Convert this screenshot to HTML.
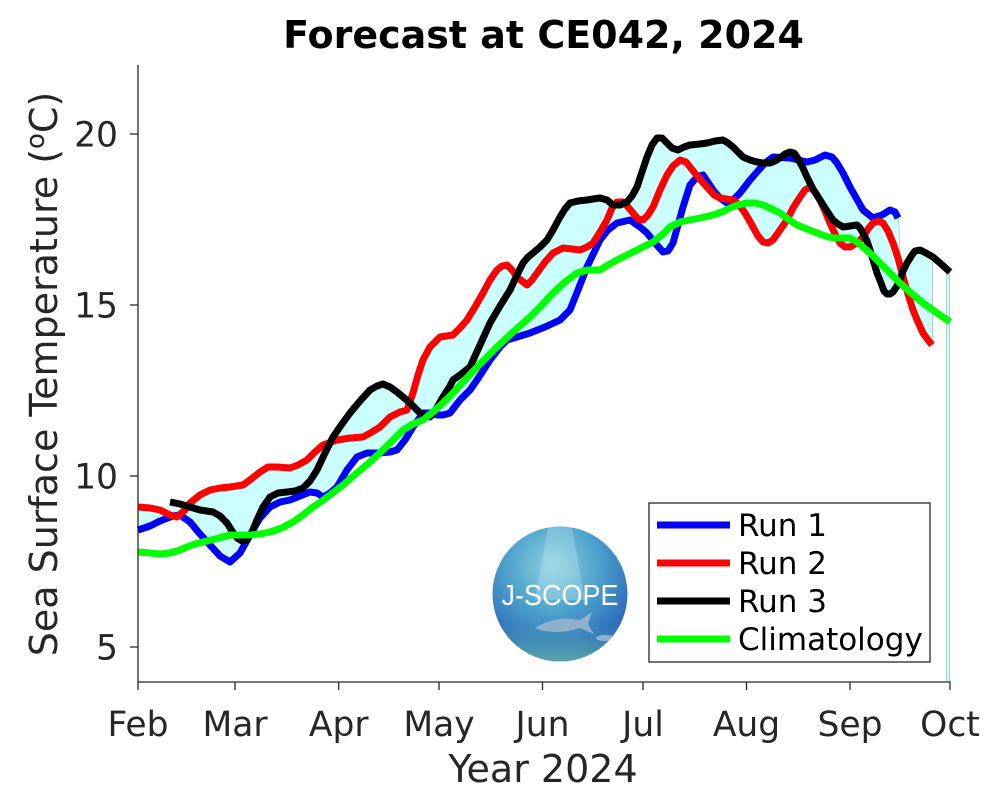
<!DOCTYPE html>
<html><head><meta charset="utf-8"><style>
html,body{margin:0;padding:0;background:#fff;}
svg{display:block;}
</style></head><body>
<svg width="1000" height="804" viewBox="0 0 1000 804" xmlns="http://www.w3.org/2000/svg" font-family="'DejaVu Sans','Liberation Sans',sans-serif">
<defs>
<clipPath id="c1"><rect x="138" y="60" width="760" height="630"/></clipPath>
<clipPath id="c2"><rect x="170" y="60" width="728" height="630"/></clipPath>
<clipPath id="c3"><rect x="170" y="60" width="762" height="630"/></clipPath>
<radialGradient id="lg" cx="0.45" cy="0.3" r="0.8">
<stop offset="0" stop-color="#8fd0df"/>
<stop offset="0.4" stop-color="#4fa3cc"/>
<stop offset="0.75" stop-color="#2f6fbd"/>
<stop offset="1" stop-color="#2a55a8"/>
</radialGradient>
<linearGradient id="lg2" x1="0" y1="0" x2="0" y2="1">
<stop offset="0.7" stop-color="#4aa6a8" stop-opacity="0"/>
<stop offset="1" stop-color="#6ab8a8" stop-opacity="0.85"/>
</linearGradient>
<clipPath id="circ"><circle cx="560" cy="594" r="67.5"/></clipPath>
</defs>

<!-- title -->
<text x="543.5" y="48" font-size="38" font-weight="bold" text-anchor="middle" fill="#000">Forecast at CE042, 2024</text>

<!-- envelope fill (pairwise XOR regions) -->
<g fill="#ccffff" fill-rule="evenodd" stroke="none">
<path clip-path="url(#c1)" d="M138,800 L138,530 150,526 160,521 173,516 180,515 190,522 200,534 210,545 220,556 230,562 240,553 250,535 260,518 270,507 280,502 290,500 300,496 310,492 317,493 323,497 330,493 337,487 347,470 357,457 367,453 380,453 390,452 397,450 405,440 413,427 423,413 430,413 437,415 443,415 450,413 460,400 470,390 477,380 490,360 500,347 507,340 517,337 530,333 545,327 560,320 570,310 580,285 587,267 600,240 608,230 617,223 630,220 640,227 647,233 655,243 663,252 668,251 673,243 683,207 690,185 697,177 703,175 713,190 720,198 727,203 733,200 740,193 750,180 757,172 765,163 773,157 790,158 807,162 815,160 825,155 832,157 837,163 843,173 850,187 863,210 873,218 882,215 890,210 895,212 898,218 898,800 Z M138,800 L138,507 150,508 160,510 170,515 177,517 185,510 190,503 200,495 210,490 220,488 230,487 243,485 250,480 260,472 268,467 277,467 290,468 298,465 307,460 315,452 323,445 337,440 350,438 363,437 372,432 380,427 390,417 400,412 407,410 413,393 418,375 423,360 430,347 440,337 453,335 460,328 467,320 475,307 483,293 490,280 497,270 502,266 507,265 512,270 517,277 527,285 532,280 537,273 545,262 553,253 563,248 572,249 580,250 587,247 593,243 600,232 607,220 612,208 617,202 623,202 628,207 633,213 638,219 643,220 648,215 653,207 660,190 667,175 673,166 680,160 686,162 690,167 698,177 707,187 714,195 720,198 733,200 738,204 743,210 748,218 753,227 758,236 763,242 768,243 773,240 780,230 787,220 793,208 800,197 805,190 810,187 815,192 820,200 825,211 830,223 835,234 840,243 845,247 850,247 857,243 863,237 868,229 873,223 878,221 883,223 888,231 893,243 898,258 903,277 908,294 913,310 918,322 923,333 928,340 932,345 932,800 Z"/>
<path clip-path="url(#c2)" d="M138,800 L138,530 150,526 160,521 173,516 180,515 190,522 200,534 210,545 220,556 230,562 240,553 250,535 260,518 270,507 280,502 290,500 300,496 310,492 317,493 323,497 330,493 337,487 347,470 357,457 367,453 380,453 390,452 397,450 405,440 413,427 423,413 430,413 437,415 443,415 450,413 460,400 470,390 477,380 490,360 500,347 507,340 517,337 530,333 545,327 560,320 570,310 580,285 587,267 600,240 608,230 617,223 630,220 640,227 647,233 655,243 663,252 668,251 673,243 683,207 690,185 697,177 703,175 713,190 720,198 727,203 733,200 740,193 750,180 757,172 765,163 773,157 790,158 807,162 815,160 825,155 832,157 837,163 843,173 850,187 863,210 873,218 882,215 890,210 895,212 898,218 898,800 Z M170,800 L170,502 180,504 190,507 200,510 213,512 220,516 227,523 232,531 237,538 242,541 247,540 252,532 257,520 263,507 270,497 278,493 287,492 295,491 303,488 310,481 317,470 325,453 333,437 342,424 350,413 360,401 370,390 377,386 383,384 390,387 397,392 403,397 410,403 415,408 420,413 425,416 430,417 436,409 443,397 450,386 453,380 460,375 470,367 480,345 490,323 500,306 510,290 517,275 523,263 528,257 533,253 540,247 547,240 553,230 560,217 565,209 570,203 578,201 587,200 593,199 600,198 607,200 613,205 620,205 627,202 632,196 637,187 642,172 647,157 652,145 657,138 662,138 667,143 672,148 678,150 684,147 690,145 700,144 707,143 715,141 723,140 728,143 733,147 738,152 743,157 750,160 757,162 763,163 770,163 775,161 780,158 785,154 790,152 794,153 797,157 802,166 807,177 813,189 820,200 827,211 833,220 838,224 843,227 850,226 857,225 860,228 863,233 867,241 870,250 874,263 877,273 881,283 884,291 887,294 890,294 893,292 897,286 900,280 903,271 907,263 912,255 915,251 920,250 926,253 933,257 940,263 950,272 950,800 Z"/>
<path clip-path="url(#c3)" d="M138,800 L138,507 150,508 160,510 170,515 177,517 185,510 190,503 200,495 210,490 220,488 230,487 243,485 250,480 260,472 268,467 277,467 290,468 298,465 307,460 315,452 323,445 337,440 350,438 363,437 372,432 380,427 390,417 400,412 407,410 413,393 418,375 423,360 430,347 440,337 453,335 460,328 467,320 475,307 483,293 490,280 497,270 502,266 507,265 512,270 517,277 527,285 532,280 537,273 545,262 553,253 563,248 572,249 580,250 587,247 593,243 600,232 607,220 612,208 617,202 623,202 628,207 633,213 638,219 643,220 648,215 653,207 660,190 667,175 673,166 680,160 686,162 690,167 698,177 707,187 714,195 720,198 733,200 738,204 743,210 748,218 753,227 758,236 763,242 768,243 773,240 780,230 787,220 793,208 800,197 805,190 810,187 815,192 820,200 825,211 830,223 835,234 840,243 845,247 850,247 857,243 863,237 868,229 873,223 878,221 883,223 888,231 893,243 898,258 903,277 908,294 913,310 918,322 923,333 928,340 932,345 932,800 Z M170,800 L170,502 180,504 190,507 200,510 213,512 220,516 227,523 232,531 237,538 242,541 247,540 252,532 257,520 263,507 270,497 278,493 287,492 295,491 303,488 310,481 317,470 325,453 333,437 342,424 350,413 360,401 370,390 377,386 383,384 390,387 397,392 403,397 410,403 415,408 420,413 425,416 430,417 436,409 443,397 450,386 453,380 460,375 470,367 480,345 490,323 500,306 510,290 517,275 523,263 528,257 533,253 540,247 547,240 553,230 560,217 565,209 570,203 578,201 587,200 593,199 600,198 607,200 613,205 620,205 627,202 632,196 637,187 642,172 647,157 652,145 657,138 662,138 667,143 672,148 678,150 684,147 690,145 700,144 707,143 715,141 723,140 728,143 733,147 738,152 743,157 750,160 757,162 763,163 770,163 775,161 780,158 785,154 790,152 794,153 797,157 802,166 807,177 813,189 820,200 827,211 833,220 838,224 843,227 850,226 857,225 860,228 863,233 867,241 870,250 874,263 877,273 881,283 884,291 887,294 890,294 893,292 897,286 900,280 903,271 907,263 912,255 915,251 920,250 926,253 933,257 940,263 950,272 950,800 Z"/>
</g>
<line x1="898.5" y1="218" x2="900" y2="258" stroke="#b0cccc" stroke-width="1"/>
<line x1="932.5" y1="258" x2="932.5" y2="345" stroke="#b0cccc" stroke-width="1"/>
<rect x="946.5" y="272" width="3" height="410" fill="#ccffff" stroke="#99c8c8" stroke-width="0.8"/>

<!-- series -->
<g fill="none" stroke-width="7" stroke-linejoin="round" stroke-linecap="butt">
<polyline stroke="#0000ff" points="138,530 150,526 160,521 173,516 180,515 190,522 200,534 210,545 220,556 230,562 240,553 250,535 260,518 270,507 280,502 290,500 300,496 310,492 317,493 323,497 330,493 337,487 347,470 357,457 367,453 380,453 390,452 397,450 405,440 413,427 423,413 430,413 437,415 443,415 450,413 460,400 470,390 477,380 490,360 500,347 507,340 517,337 530,333 545,327 560,320 570,310 580,285 587,267 600,240 608,230 617,223 630,220 640,227 647,233 655,243 663,252 668,251 673,243 683,207 690,185 697,177 703,175 713,190 720,198 727,203 733,200 740,193 750,180 757,172 765,163 773,157 790,158 807,162 815,160 825,155 832,157 837,163 843,173 850,187 863,210 873,218 882,215 890,210 895,212 898,218"/>
<polyline stroke="#ff0000" points="138,507 150,508 160,510 170,515 177,517 185,510 190,503 200,495 210,490 220,488 230,487 243,485 250,480 260,472 268,467 277,467 290,468 298,465 307,460 315,452 323,445 337,440 350,438 363,437 372,432 380,427 390,417 400,412 407,410 413,393 418,375 423,360 430,347 440,337 453,335 460,328 467,320 475,307 483,293 490,280 497,270 502,266 507,265 512,270 517,277 527,285 532,280 537,273 545,262 553,253 563,248 572,249 580,250 587,247 593,243 600,232 607,220 612,208 617,202 623,202 628,207 633,213 638,219 643,220 648,215 653,207 660,190 667,175 673,166 680,160 686,162 690,167 698,177 707,187 714,195 720,198 733,200 738,204 743,210 748,218 753,227 758,236 763,242 768,243 773,240 780,230 787,220 793,208 800,197 805,190 810,187 815,192 820,200 825,211 830,223 835,234 840,243 845,247 850,247 857,243 863,237 868,229 873,223 878,221 883,223 888,231 893,243 898,258 903,277 908,294 913,310 918,322 923,333 928,340 932,345"/>
<polyline stroke="#000000" points="170,502 180,504 190,507 200,510 213,512 220,516 227,523 232,531 237,538 242,541 247,540 252,532 257,520 263,507 270,497 278,493 287,492 295,491 303,488 310,481 317,470 325,453 333,437 342,424 350,413 360,401 370,390 377,386 383,384 390,387 397,392 403,397 410,403 415,408 420,413 425,416 430,417 436,409 443,397 450,386 453,380 460,375 470,367 480,345 490,323 500,306 510,290 517,275 523,263 528,257 533,253 540,247 547,240 553,230 560,217 565,209 570,203 578,201 587,200 593,199 600,198 607,200 613,205 620,205 627,202 632,196 637,187 642,172 647,157 652,145 657,138 662,138 667,143 672,148 678,150 684,147 690,145 700,144 707,143 715,141 723,140 728,143 733,147 738,152 743,157 750,160 757,162 763,163 770,163 775,161 780,158 785,154 790,152 794,153 797,157 802,166 807,177 813,189 820,200 827,211 833,220 838,224 843,227 850,226 857,225 860,228 863,233 867,241 870,250 874,263 877,273 881,283 884,291 887,294 890,294 893,292 897,286 900,280 903,271 907,263 912,255 915,251 920,250 926,253 933,257 940,263 950,272"/>
<polyline stroke="#00ff00" points="138,552 150,553 160,554 170,553 180,550 187,547 195,544 203,542 215,539 230,535 240,535 250,535 260,534 270,532 282,528 293,522 303,515 313,507 322,501 330,495 343,485 357,473 370,462 383,450 393,440 403,430 413,424 423,420 433,412 443,403 452,394 463,382 480,364 497,347 513,332 530,317 542,305 553,293 565,282 577,273 588,270 600,270 608,265 617,260 627,255 637,250 645,246 653,242 662,235 670,227 680,222 690,220 700,218 713,215 722,212 730,208 738,205 747,203 755,203 763,205 772,209 780,213 788,219 797,225 807,229 817,233 825,236 833,238 842,238 850,238 857,242 863,247 872,255 880,263 890,273 900,283 911,293 923,303 937,313 950,322"/>
</g>

<!-- axes -->
<g stroke="#262626" stroke-width="1.3" fill="none">
<line x1="138" y1="65" x2="138" y2="682.5"/>
<line x1="137.4" y1="682" x2="950.6" y2="682"/>
<line x1="130" y1="134" x2="138" y2="134"/>
<line x1="130" y1="305" x2="138" y2="305"/>
<line x1="130" y1="476" x2="138" y2="476"/>
<line x1="130" y1="647" x2="138" y2="647"/>
<line x1="138" y1="682" x2="138" y2="690"/>
<line x1="235" y1="682" x2="235" y2="690"/>
<line x1="338.7" y1="682" x2="338.7" y2="690"/>
<line x1="439" y1="682" x2="439" y2="690"/>
<line x1="542.5" y1="682" x2="542.5" y2="690"/>
<line x1="643" y1="682" x2="643" y2="690"/>
<line x1="746.5" y1="682" x2="746.5" y2="690"/>
<line x1="850" y1="682" x2="850" y2="690"/>
<line x1="950" y1="682" x2="950" y2="690"/>
</g>

<g font-size="34.5" fill="#262626" text-anchor="end">
<text x="118" y="146.5">20</text>
<text x="118" y="317.5">15</text>
<text x="118" y="488.5">10</text>
<text x="118" y="659.5">5</text>
</g>
<g font-size="34.5" fill="#262626" text-anchor="middle">
<text x="138" y="736">Feb</text>
<text x="235" y="736">Mar</text>
<text x="338.7" y="736">Apr</text>
<text x="439" y="736">May</text>
<text x="542.5" y="736">Jun</text>
<text x="643" y="736">Jul</text>
<text x="746.5" y="736">Aug</text>
<text x="850" y="736">Sep</text>
<text x="950" y="736">Oct</text>
</g>
<text x="543" y="782" font-size="38" fill="#262626" text-anchor="middle">Year 2024</text>
<text transform="translate(57,374) rotate(-90)" font-size="38" fill="#262626" text-anchor="middle">Sea Surface Temperature (<tspan font-size="26" dy="-13">o</tspan><tspan dy="13">C)</tspan></text>

<!-- logo -->
<g clip-path="url(#circ)">
<rect x="490" y="524" width="140" height="140" fill="url(#lg)"/>
<rect x="490" y="524" width="140" height="140" fill="url(#lg2)"/>
<polygon points="548,527 572,527 585,600 535,600" fill="#c8eef2" opacity="0.3"/>
<path d="M535,628 Q555,615 580,620 L592,612 L588,624 L594,634 L580,628 Q555,636 535,628 Z" fill="#8fb0cc"/>
<ellipse cx="605" cy="638" rx="9" ry="3" fill="#8fb0cc"/>
</g>
<text x="560" y="605" font-family="'Liberation Sans',sans-serif" font-size="29" fill="#ffffff" text-anchor="middle" textLength="117" lengthAdjust="spacingAndGlyphs">J-SCOPE</text>

<!-- legend -->
<rect x="649" y="503" width="281" height="159" fill="#ffffff" stroke="#262626" stroke-width="1.3"/>
<g stroke-width="7">
<line x1="657" y1="525" x2="730" y2="525" stroke="#0000ff"/>
<line x1="657" y1="563" x2="730" y2="563" stroke="#ff0000"/>
<line x1="657" y1="601" x2="730" y2="601" stroke="#000000"/>
<line x1="657" y1="639" x2="730" y2="639" stroke="#00ff00"/>
</g>
<g font-size="31" fill="#000">
<text x="738" y="536">Run 1</text>
<text x="738" y="574">Run 2</text>
<text x="738" y="612">Run 3</text>
<text x="738" y="650">Climatology</text>
</g>
</svg>
</body></html>
